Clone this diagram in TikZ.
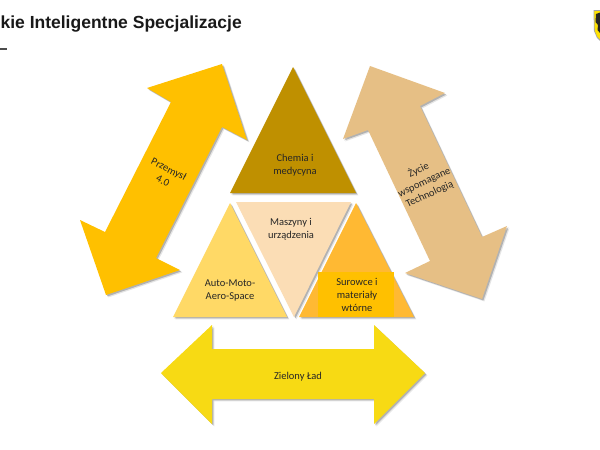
\documentclass[tikz,border=0pt]{standalone}
\usepackage{fontspec}
\setmainfont{Carlito}
\newfontfamily\titlefont{Liberation Sans}
\begin{document}
\begin{tikzpicture}[x=1pt,y=-1pt,
  soft/.style={
    preaction={fill=black,opacity=.10,transform canvas={shift={(2.4pt,-2.4pt)}}},
    preaction={fill=black,opacity=.22,transform canvas={shift={(1.4pt,-1.4pt)}}},
    fill=#1},
  lbl/.style={align=center,font=\fontsize{10.5}{13}\selectfont,text=black!85,inner sep=0pt}]
\definecolor{cPrz}{HTML}{FFC000}
\definecolor{cZyc}{HTML}{E6BF85}
\definecolor{cZie}{HTML}{F7DA14}
\definecolor{cChe}{HTML}{BF9000}
\definecolor{cAut}{HTML}{FFD966}
\definecolor{cMas}{HTML}{FBDDB5}
\definecolor{cSur}{HTML}{FFB933}
\useasboundingbox (0,0) rectangle (600,450);
\clip (0,0) rectangle (600,450);
\fill[white] (0,0) rectangle (600,450);
% title
\node[anchor=base east,inner sep=0pt,font=\titlefont\bfseries\fontsize{17.5}{20}\selectfont,text=black!90] (title) at (242,28) {kie Inteligentne Specjalizacje};
\fill[black!70] (0,48.3) rectangle (7,49.7);
% crest
\fill[black!35] (593.5,10) -- (600,10) -- (600,41) -- (597,38) -- (594,31) -- cycle;
\fill[yellow!85!orange] (594.3,11) -- (600,11) -- (600,39.5) -- (597.5,37) -- (594.8,30.5) -- cycle;
\fill[black!85] (596,14) -- (600,12.5) -- (600,33) -- (597.5,30) -- (598,25) -- (595.5,22) -- cycle;
% arrows
\path[soft=cPrz] (222,64) -- (247,140) -- (222,127) -- (156,258) -- (180,270) -- (106,295) -- (80,220) -- (105,232) -- (171,102) -- (147,88) -- cycle;
\path[soft=cZyc] (370,66) -- (445,93) -- (420,106) -- (482,237) -- (507,226) -- (482,299) -- (405,273) -- (430,261) -- (368,130) -- (343,139) -- cycle;
\path[soft=cZie] (161,373) -- (212,325) -- (212,349) -- (374,349) -- (374,325) -- (425,373) -- (374,424) -- (374,399) -- (212,399) -- (212,424) -- cycle;
% triangles
\path[soft=cChe] (293,67) -- (356,193) -- (230,193) -- cycle;
\path[soft=cAut] (230,203) -- (287,317) -- (173,317) -- cycle;
\path[soft=cMas] (236,202) -- (351,202) -- (294,317) -- cycle;
\path[soft=cSur] (356,203) -- (414,317) -- (299,317) -- cycle;
\fill[cPrz] (318,272) rectangle (394,317);
% labels
\node[lbl,rotate=-27] (przemysl) at (166,175) {Przemysł\\4.0};
\node[lbl,rotate=25] (zycie) at (424,182) {Życie\\wspomagane\\Technologią};
\node[lbl] (chemia) at (295,165.5) {Chemia i\\medycyna};
\node[lbl] (maszyny) at (291,229.5) {Maszyny i\\urządzenia};
\node[lbl] (auto) at (230,290.5) {Auto-Moto-\\Aero-Space};
\node[lbl] (surowce) at (357,295) {Surowce i\\materiały\\wtórne};
\node[lbl] (zielony) at (298,377) {Zielony Ład};
\end{tikzpicture}
\end{document}
